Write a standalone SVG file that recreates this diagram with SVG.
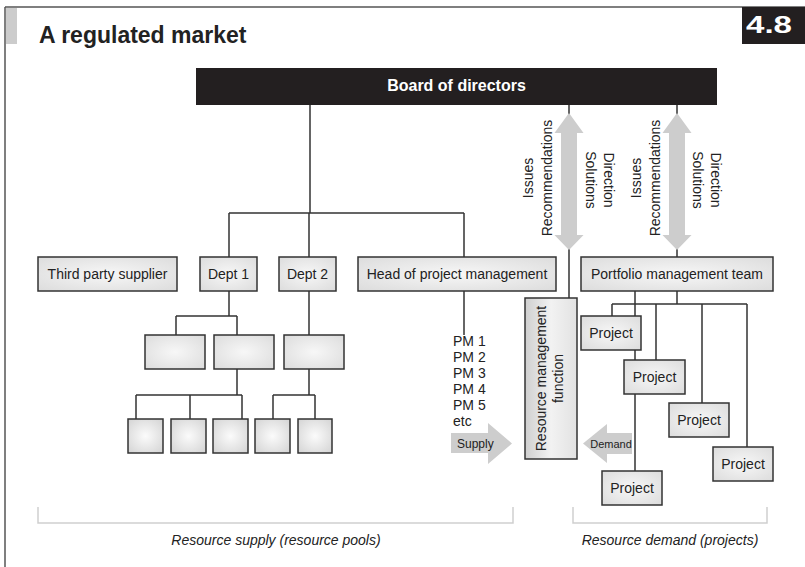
<svg xmlns="http://www.w3.org/2000/svg" width="805" height="567" viewBox="0 0 805 567">
<defs>
<radialGradient id="gBox" cx="50%" cy="50%" r="70%">
<stop offset="0" stop-color="#f7f7f7"/>
<stop offset="1" stop-color="#dcdcdc"/>
</radialGradient>
<radialGradient id="gSmall" cx="50%" cy="50%" r="65%">
<stop offset="0" stop-color="#fbfbfb"/>
<stop offset="1" stop-color="#d6d6d6"/>
</radialGradient>
<linearGradient id="gRes" x1="0" y1="0" x2="1" y2="0">
<stop offset="0" stop-color="#cfcfcf"/>
<stop offset="0.5" stop-color="#f2f2f2"/>
<stop offset="1" stop-color="#e2e2e2"/>
</linearGradient>
</defs>
<style>
.ln{stroke:#333;stroke-width:1.5;fill:none}
.box{fill:url(#gBox);stroke:#333;stroke-width:1.5}
.sm{fill:url(#gSmall);stroke:#333;stroke-width:1.5}
.t{font-family:"Liberation Sans",Arial,sans-serif;font-size:14px;fill:#222}
.c{text-anchor:middle}
.arr{fill:#cdcdcd}
.br{stroke:#cfcfcf;stroke-width:1.5;fill:none}
.it{font-family:"Liberation Sans",Arial,sans-serif;font-size:14px;font-style:italic;fill:#222;text-anchor:middle}
</style>
<rect width="805" height="567" fill="#fff"/>
<g id="frame">
<path d="M5 7H805M5 7V567" stroke="#555" stroke-width="1.5" fill="none"/>
<rect x="6" y="8" width="11" height="36" fill="#cccccc"/>
<text x="39" y="43" font-family="Liberation Sans,Arial,sans-serif" font-size="23" font-weight="bold" fill="#222">A regulated market</text>
<rect x="742" y="7" width="63" height="37" fill="#231f20"/>
<text x="769" y="33" font-family="Liberation Sans,Arial,sans-serif" font-size="24" font-weight="bold" fill="#fff" text-anchor="middle" textLength="46" lengthAdjust="spacingAndGlyphs">4.8</text>
</g>
<g id="connectors">
<path class="ln" d="M310 105V213M229 213H464M229 213V257M309 213V257M464 213V257"/>
<path class="ln" d="M229 291V316M176 316H237M176 316V335M237 316V335M309 291V335"/>
<path class="ln" d="M237 369V395M136 395H242M136 395V420M190 395V420M242 395V420"/>
<path class="ln" d="M309 369V395M273 395H315M273 395V420M315 395V420"/>
<path class="ln" d="M464 291V335"/>
<path class="ln" d="M569 105V298M677 105V257"/>
<path class="ln" d="M635 291V471M677 291V304M612 304H747M612 304V316M656 304V360M702 304V403M747 304V447"/>
</g>
<g id="arrows">
<path class="arr" d="M569 113L583.5 133H577V235H583.5L569 250L554.5 235H561V133H554.5Z"/>
<path class="arr" d="M677 113L691.5 133H685V235H691.5L677 250L662.5 235H669V133H662.5Z"/>
<path class="arr" d="M451 433H488V423L512 443.5L488 464V453H451Z"/>
<path class="arr" d="M632 433H607V424L583 443.5L607 463V454H632Z"/>
</g>
<g id="board">
<rect x="196" y="68" width="521" height="37" fill="#231f20"/>
<text x="456.5" y="91" font-family="Liberation Sans,Arial,sans-serif" font-size="16" font-weight="bold" fill="#fff" text-anchor="middle">Board of directors</text>
</g>
<g id="flow-labels">
<text class="t c" transform="translate(533 178) rotate(-90)">Issues</text>
<text class="t c" transform="translate(552 178) rotate(-90)">Recommendations</text>
<text class="t c" transform="translate(586 180) rotate(90)">Solutions</text>
<text class="t c" transform="translate(604 180) rotate(90)">Direction</text>
<text class="t c" transform="translate(641 178) rotate(-90)">Issues</text>
<text class="t c" transform="translate(660 178) rotate(-90)">Recommendations</text>
<text class="t c" transform="translate(693 180) rotate(90)">Solutions</text>
<text class="t c" transform="translate(711 180) rotate(90)">Direction</text>
<text x="457" y="448" font-family="Liberation Sans,Arial,sans-serif" font-size="12" fill="#222">Supply</text>
<text x="611" y="448" font-family="Liberation Sans,Arial,sans-serif" font-size="11" fill="#222" text-anchor="middle">Demand</text>
</g>
<g id="third-party"><rect class="box" x="38" y="257" width="139" height="34"/><text class="t c" x="107.5" y="279">Third party supplier</text></g>
<g id="dept1"><rect class="box" x="200" y="257" width="57" height="34"/><text class="t c" x="228.5" y="279">Dept 1</text></g>
<g id="dept2"><rect class="box" x="279" y="257" width="57" height="34"/><text class="t c" x="307.5" y="279">Dept 2</text></g>
<g id="head-pm"><rect class="box" x="358" y="257" width="198" height="34"/><text class="t c" x="457" y="279">Head of project management</text></g>
<g id="portfolio"><rect class="box" x="581" y="257" width="192" height="34"/><text class="t c" x="677" y="279">Portfolio management team</text></g>
<g id="d1-units">
<rect class="box" x="145" y="335" width="60" height="34"/>
<rect class="box" x="214" y="335" width="60" height="34"/>
</g>
<g id="d2-unit"><rect class="box" x="284" y="335" width="60" height="34"/></g>
<g id="pools">
<rect class="sm" x="128" y="419" width="35" height="34"/>
<rect class="sm" x="171" y="419" width="35" height="34"/>
<rect class="sm" x="213" y="419" width="35" height="34"/>
<rect class="sm" x="255" y="419" width="35" height="34"/>
<rect class="sm" x="298" y="419" width="34" height="34"/>
</g>
<g id="pm-list">
<text class="t" x="453" y="346">PM 1</text>
<text class="t" x="453" y="362">PM 2</text>
<text class="t" x="453" y="378">PM 3</text>
<text class="t" x="453" y="394">PM 4</text>
<text class="t" x="453" y="410">PM 5</text>
<text class="t" x="453" y="426">etc</text>
</g>
<g id="resource-mgmt">
<rect x="525" y="298" width="52" height="161" fill="url(#gRes)" stroke="#333" stroke-width="1.5"/>
<text class="t c" transform="translate(546 378.5) rotate(-90)">Resource management</text>
<text class="t c" transform="translate(563 378.5) rotate(-90)">function</text>
</g>
<g id="project1"><rect class="box" x="581" y="316" width="60" height="34"/><text class="t c" x="611" y="338">Project</text></g>
<g id="project2"><rect class="box" x="624" y="360" width="61" height="34"/><text class="t c" x="654.5" y="382">Project</text></g>
<g id="project3"><rect class="box" x="669" y="403" width="60" height="34"/><text class="t c" x="699" y="425">Project</text></g>
<g id="project4"><rect class="box" x="713" y="447" width="60" height="34"/><text class="t c" x="743" y="469">Project</text></g>
<g id="project5"><rect class="box" x="602" y="471" width="60" height="34"/><text class="t c" x="632" y="493">Project</text></g>
<g id="brackets">
<path class="br" d="M38 507V523H513V507"/>
<path class="br" d="M573 507V523H767V507"/>
<text class="it" x="276" y="545">Resource supply (resource pools)</text>
<text class="it" x="670" y="545">Resource demand (projects)</text>
</g>
</svg>
